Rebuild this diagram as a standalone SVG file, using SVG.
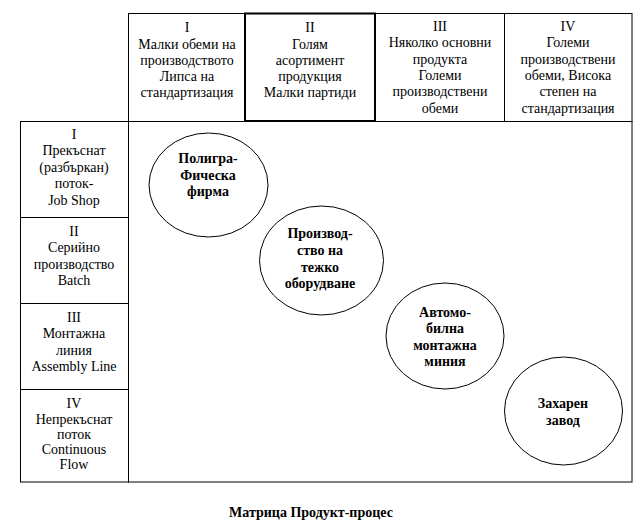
<svg xmlns="http://www.w3.org/2000/svg" width="642" height="530" viewBox="0 0 642 530">
<style>
  .ln { fill: none; stroke: #000; stroke-width: 1; }
  .bold { fill: none; stroke: #000; stroke-width: 2; }
  .ell { fill: #fff; stroke: #000; stroke-width: 1; }
  text { font-family: "Liberation Serif", "Times New Roman", serif; font-size: 14px; fill: #000; text-anchor: middle; }
  .b { font-weight: bold; }
</style>
<rect width="642" height="530" fill="#fff"/>
<g id="frame">
  <rect class="ln" x="128.5" y="121.5" width="503.5" height="360.5"/>
</g>
<g id="col-I">
  <rect class="ln" x="128.5" y="13.5" width="117" height="108"/>
  <text x="187" y="32">I</text>
  <text x="187" y="48.5">Малки обеми на</text>
  <text x="187" y="64.8">производството</text>
  <text x="187" y="81.1">Липса на</text>
  <text x="187" y="97.4">стандартизация</text>
</g>
<g id="col-III">
  <rect class="ln" x="375.5" y="13.5" width="129" height="108"/>
  <text x="440" y="31">III</text>
  <text x="440" y="47.3">Няколко основни</text>
  <text x="440" y="63.6">продукта</text>
  <text x="440" y="79.9">Големи</text>
  <text x="440" y="96.2">производствени</text>
  <text x="440" y="112.5">обеми</text>
</g>
<g id="col-IV">
  <rect class="ln" x="504.5" y="13.5" width="127.5" height="108"/>
  <text x="568" y="31">IV</text>
  <text x="568" y="47.3">Големи</text>
  <text x="568" y="63.6">производствени</text>
  <text x="568" y="79.9">обеми, Висока</text>
  <text x="568" y="96.2">степен на</text>
  <text x="568" y="112.5">стандартизация</text>
</g>
<g id="col-II">
  <rect class="bold" x="245" y="13.5" width="130" height="107.5"/>
  <text x="310" y="32">II</text>
  <text x="310" y="48.5">Голям</text>
  <text x="310" y="64.8">асортимент</text>
  <text x="310" y="81.1">продукция</text>
  <text x="310" y="97.4">Малки партиди</text>
</g>
<g id="row-I">
  <rect class="ln" x="20.5" y="121.5" width="108" height="96"/>
  <text x="74" y="138.5">I</text>
  <text x="74" y="155">Прекъснат</text>
  <text x="74" y="171.5">(разбъркан)</text>
  <text x="74" y="188">поток-</text>
  <text x="74" y="204.5">Job Shop</text>
</g>
<g id="row-II">
  <rect class="ln" x="20.5" y="217.5" width="108" height="86"/>
  <text x="74" y="236">II</text>
  <text x="74" y="252.3">Серийно</text>
  <text x="74" y="268.6">производство</text>
  <text x="74" y="284.9">Batch</text>
</g>
<g id="row-III">
  <rect class="ln" x="20.5" y="303.5" width="108" height="86"/>
  <text x="74" y="322">III</text>
  <text x="74" y="338.3">Монтажна</text>
  <text x="74" y="354.6">линия</text>
  <text x="74" y="370.9">Assembly Line</text>
</g>
<g id="row-IV">
  <rect class="ln" x="20.5" y="389.5" width="108" height="92.5"/>
  <text x="74" y="408">IV</text>
  <text x="74" y="424">Непрекъснат</text>
  <text x="74" y="439">поток</text>
  <text x="74" y="454">Continuous</text>
  <text x="74" y="469">Flow</text>
</g>
<g id="connectors"></g>
<g id="node-poligraf">
  <ellipse class="ell" cx="208.5" cy="185" rx="59.5" ry="52"/>
  <text class="b" x="208" y="163">Полигра-</text>
  <text class="b" x="208" y="179.5">Фическа</text>
  <text class="b" x="208" y="196">фирма</text>
</g>
<g id="node-proizvodstvo">
  <ellipse class="ell" cx="321.5" cy="260.5" rx="62" ry="54.5"/>
  <text class="b" x="320" y="238">Производ-</text>
  <text class="b" x="320" y="255">ство на</text>
  <text class="b" x="320" y="271.5">тежко</text>
  <text class="b" x="320" y="288">оборудване</text>
</g>
<g id="node-avtomobilna">
  <ellipse class="ell" cx="445" cy="336" rx="59" ry="53"/>
  <text class="b" x="445" y="316.5">Автомо-</text>
  <text class="b" x="445" y="333">билна</text>
  <text class="b" x="445" y="349.5">монтажна</text>
  <text class="b" x="445" y="366">миния</text>
</g>
<g id="node-zaharen">
  <ellipse class="ell" cx="563.5" cy="411" rx="59" ry="54"/>
  <text class="b" x="563" y="408">Захарен</text>
  <text class="b" x="563" y="424.5">завод</text>
</g>
<g id="caption">
  <text class="b" x="311" y="517">Матрица  Продукт-процес</text>
</g>
</svg>
